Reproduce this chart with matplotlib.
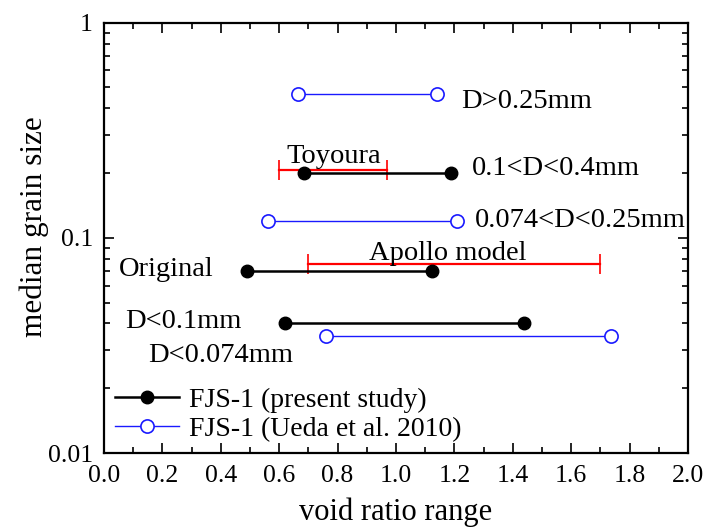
import matplotlib
matplotlib.use("Agg")
import matplotlib.pyplot as plt
from matplotlib.ticker import MultipleLocator, LogLocator, NullFormatter, FixedLocator, FormatStrFormatter

plt.rcParams['font.family'] = ['Liberation Serif', 'DejaVu Serif']

# Present study (FJS-1): [emin, emax], D50
present_labels = ["0.1<D<0.4mm", "Original", "D<0.1mm"]
present_emin = [0.686, 0.490, 0.621]
present_emax = [1.189, 1.124, 1.439]
present_d50 = [0.200, 0.0703, 0.0402]

# Ueda et al. 2010
ueda_labels = ["D>0.25mm", "0.074<D<0.25mm", "D<0.074mm"]
ueda_emin = [0.663, 0.561, 0.760]
ueda_emax = [1.139, 1.209, 1.737]
ueda_d50 = [0.465, 0.120, 0.0348]

# Reference materials
ref_labels = ["Toyoura", "Apollo model"]
ref_emin = [0.60, 0.70]
ref_emax = [0.97, 1.70]
ref_d50 = [0.207, 0.0755]

fig = plt.figure(figsize=(7.05, 5.28), dpi=100)
ax = fig.add_axes([104/705, 1-453/528, (688-104)/705, (453-22.7)/528])

for lo, hi, d in zip(ref_emin, ref_emax, ref_d50):
    ax.plot([lo, hi], [d, d], color='red', lw=1.6, marker='|', ms=14, mew=1.2, zorder=2)

for i, (lo, hi, d) in enumerate(zip(present_emin, present_emax, present_d50)):
    ax.plot([lo, hi], [d, d], color='black', lw=1.8, marker='o', ms=9,
            mfc='black', mec='black', zorder=3,
            label='FJS-1 (present study)' if i == 0 else None)

for i, (lo, hi, d) in enumerate(zip(ueda_emin, ueda_emax, ueda_d50)):
    ax.plot([lo, hi], [d, d], color='#1a1aff', lw=1.0, marker='o', ms=9.5,
            mfc='white', mec='#1a1aff', mew=1.2, zorder=3,
            label='FJS-1 (Ueda et al. 2010)' if i == 0 else None)

ax.set_yscale('log')
ax.set_xlim(0, 2.0)
ax.set_ylim(0.01, 1)

fs = 20.5
# annotations (baseline positions)
ax.text(1.222, 0.4017, "D>0.25mm", fontsize=fs, ha='left', va='baseline')
ax.text(1.259, 0.1962, "0.1<D<0.4mm", fontsize=fs, ha='left', va='baseline')
ax.text(1.271, 0.1125, "0.074<D<0.25mm", fontsize=fs, ha='left', va='baseline')
ax.text(0.786, 0.2230, "Toyoura", fontsize=fs, ha='center', va='baseline')
ax.text(1.176, 0.0790, "Apollo model", fontsize=fs, ha='center', va='baseline')
ax.text(0.212, 0.0666, "Original", fontsize=fs, ha='center', va='baseline')
ax.text(0.271, 0.0382, "D<0.1mm", fontsize=fs, ha='center', va='baseline')
ax.text(0.401, 0.0265, "D<0.074mm", fontsize=fs, ha='center', va='baseline')

ax.set_xlabel("void ratio range", fontsize=22, labelpad=7)
ax.set_ylabel("median grain size", fontsize=22.5)
ax.yaxis.set_label_coords(-0.095, 0.525)

ax.xaxis.set_major_locator(MultipleLocator(0.2))
ax.xaxis.set_minor_locator(MultipleLocator(0.1))
ax.xaxis.set_major_formatter(FormatStrFormatter('%.1f'))
ax.yaxis.set_major_locator(FixedLocator([0.01, 0.1, 1]))
ax.yaxis.set_minor_locator(LogLocator(base=10, subs=range(2, 10)))
ax.yaxis.set_minor_formatter(NullFormatter())
ax.set_yticklabels(['0.01', '0.1', '1'])

ax.tick_params(which='both', direction='in', top=True, right=True, labelsize=18.5, width=1.2)
ax.tick_params(which='major', length=7)
ax.tick_params(which='minor', length=4)
ax.tick_params(axis='x', which='major', pad=9)
ax.tick_params(axis='y', which='major', pad=8)
for s in ax.spines.values():
    s.set_linewidth(1.6)

leg = ax.legend(loc='lower left', bbox_to_anchor=(0.0, 0.0), frameon=False, fontsize=20,
                handlelength=2.3, handletextpad=0.35, labelspacing=0.12,
                borderaxespad=0.2, borderpad=0.2)

fig.savefig("out.png", dpi=100)
